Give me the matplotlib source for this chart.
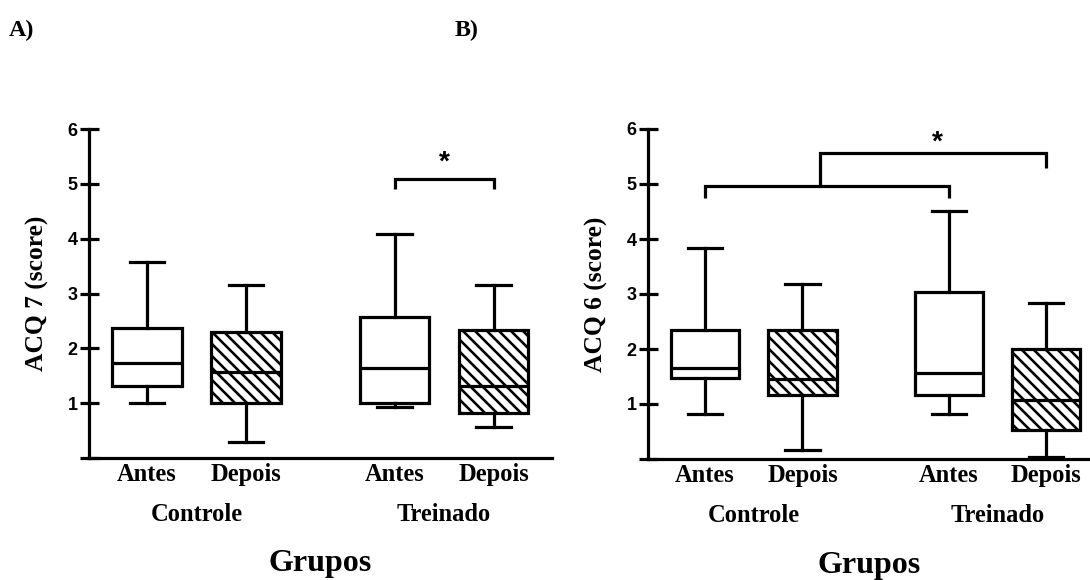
import matplotlib
matplotlib.use("Agg")
import matplotlib.pyplot as plt
from matplotlib.transforms import blended_transform_factory

# ---------------- data ----------------
box_labels = ["Antes", "Depois", "Antes", "Depois"]
group_labels = ["Controle", "Treinado"]

# Panel A: ACQ 7
a_whislo = [1.00, 0.29, 0.93, 0.57]
a_q1     = [1.31, 1.00, 1.00, 0.82]
a_med    = [1.73, 1.57, 1.64, 1.31]
a_q3     = [2.37, 2.30, 2.57, 2.34]
a_whishi = [3.57, 3.16, 4.09, 3.16]

# Panel B: ACQ 6
b_whislo = [0.82, 0.16, 0.82, 0.03]
b_q1     = [1.48, 1.16, 1.16, 0.53]
b_med    = [1.65, 1.45, 1.56, 1.07]
b_q3     = [2.34, 2.34, 3.04, 2.00]
b_whishi = [3.83, 3.18, 4.50, 2.84]

yticks = [0, 1, 2, 3, 4, 5, 6]
ytick_labels = ["", "1", "2", "3", "4", "5", "6"]

# ---------------- style ----------------
DPI = 144
W, H = 1090, 580


def P(px):
    """pixels -> points at the figure dpi"""
    return px * 72.0 / DPI


SERIF = "Liberation Serif"
SANS = "Liberation Sans"
LW = P(3.2)
plt.rcParams["hatch.linewidth"] = P(2.6)
plt.rcParams["hatch.color"] = "black"

fig = plt.figure(figsize=(W / DPI, H / DPI), dpi=DPI)

positions = [1, 2, 3.5, 4.5]
hatches = [None, "\\" * 4, None, "\\" * 4]


def make_panel(rect, xlim, lo, q1, med, q3, hi, ylabel, ylabel_x):
    ax = fig.add_axes(rect)
    stats = []
    for i in range(len(med)):
        stats.append(dict(whislo=lo[i], q1=q1[i], med=med[i], q3=q3[i],
                          whishi=hi[i], label=box_labels[i]))
    bp = ax.bxp(stats, positions=positions, widths=0.7, capwidths=0.35,
                showfliers=False, patch_artist=True,
                boxprops=dict(linewidth=LW, edgecolor="black", facecolor="white"),
                medianprops=dict(linewidth=LW, color="black"),
                whiskerprops=dict(linewidth=LW, color="black"),
                capprops=dict(linewidth=LW, color="black"))
    for patch, h in zip(bp["boxes"], hatches):
        if h:
            patch.set_hatch(h)
    ax.set_xlim(*xlim)
    ax.set_ylim(0, 6)
    for s in ["top", "right"]:
        ax.spines[s].set_visible(False)
    for s in ["left", "bottom"]:
        ax.spines[s].set_linewidth(LW)
    ax.spines["left"].set_bounds(0, 6)
    ax.set_yticks(yticks)
    ax.set_yticklabels(ytick_labels, fontfamily=SANS, fontweight="bold", fontsize=P(18))
    ax.tick_params(axis="y", direction="inout", length=P(19), width=LW, pad=P(2))
    ax.set_xticks(positions)
    ax.set_xticklabels(box_labels, fontfamily=SERIF, fontweight="bold", fontsize=P(24.5))
    ax.tick_params(axis="x", length=0, pad=P(5))
    ax.text(ylabel_x, 0.5, ylabel, transform=ax.transAxes, rotation=90,
            ha="center", va="center", fontfamily=SERIF, fontweight="bold",
            fontsize=P(25.5))
    tr = blended_transform_factory(ax.transData, ax.transAxes)
    gx = [(positions[0] + positions[1]) / 2, (positions[2] + positions[3]) / 2]
    for x, g in zip(gx, group_labels):
        ax.text(x, -0.172, g, transform=tr, ha="center", va="center",
                fontfamily=SERIF, fontweight="bold", fontsize=P(24.5))
    ax.text(0.5, -0.322, "Grupos", transform=ax.transAxes, ha="center", va="center",
            fontfamily=SERIF, fontweight="bold", fontsize=P(32))
    return ax


ax_a = make_panel([89 / W, (H - 458) / H, 463 / W, 329 / H], (0.415, 5.09),
                  a_whislo, a_q1, a_med, a_q3, a_whishi, "ACQ 7 (score)", -0.112)
ax_b = make_panel([648 / W, (H - 459) / H, 442 / W, 330 / H], (0.415, 4.95),
                  b_whislo, b_q1, b_med, b_q3, b_whishi, "ACQ 6 (score)", -0.117)

# significance brackets
kw = dict(color="black", linewidth=LW, clip_on=False, solid_capstyle="butt",
          solid_joinstyle="miter")
ax_a.plot([3.5, 3.5, 4.5, 4.5], [4.91, 5.09, 5.09, 4.91], **kw)
ax_a.text(4.0, 5.38, "*", ha="center", va="center", fontfamily=SANS,
          fontweight="bold", fontsize=P(28), clip_on=False)

ax_b.plot([1.0, 1.0, 3.5, 3.5], [4.75, 4.97, 4.97, 4.75], **kw)
ax_b.plot([2.18, 2.18, 4.5, 4.5], [4.97, 5.56, 5.56, 5.29], **kw)
ax_b.text(3.38, 5.76, "*", ha="center", va="center", fontfamily=SANS,
          fontweight="bold", fontsize=P(28), clip_on=False)

# panel letters
fig.text(9 / W, 1 - 30 / H, "A)", ha="left", va="center", fontfamily=SERIF,
         fontweight="bold", fontsize=P(24))
fig.text(455 / W, 1 - 30 / H, "B)", ha="left", va="center", fontfamily=SERIF,
         fontweight="bold", fontsize=P(24))

fig.savefig("out.png", dpi=DPI)
